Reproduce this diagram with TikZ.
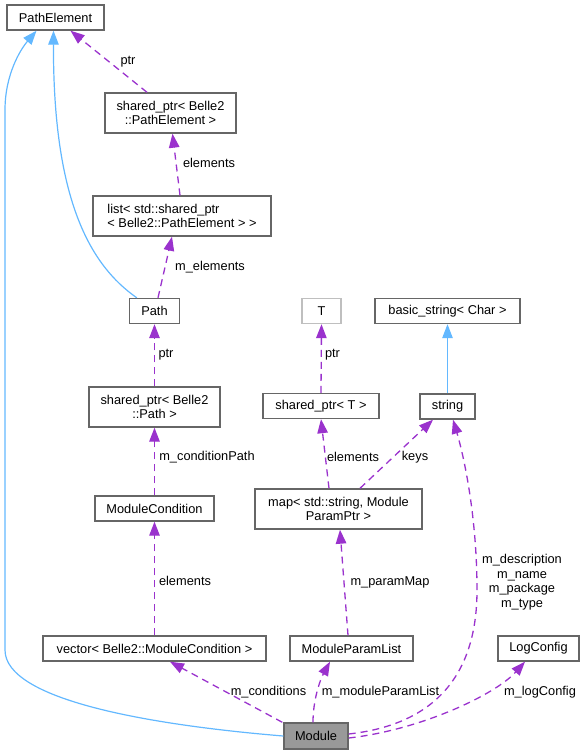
\documentclass[tikz,border=0pt]{standalone}
\usepackage{fontspec}
\setmainfont{Liberation Sans}
\usepackage{tikz}
\usetikzlibrary{arrows.meta, positioning, calc}
\definecolor{inheritblue}{RGB}{99, 184, 255}
\definecolor{usepurple}{RGB}{154, 50, 205}
\definecolor{boxgray}{RGB}{102, 102, 102}
\definecolor{ghostgray}{RGB}{191, 191, 191}
\definecolor{focusfill}{RGB}{153, 153, 153}
\tikzset{
  clsbox/.style={rectangle, draw=boxgray, line width=1.4pt, fill=white, minimum height=25pt, inner sep=0pt, align=center, font=\fontsize{12.8}{14}\selectfont},
  ghostbox/.style={clsbox, draw=ghostgray},
  focusbox/.style={clsbox, fill=focusfill, minimum height=26pt},
  inheritline/.style={draw=inheritblue, line width=1.2pt, -{Triangle[length=14pt, width=10.5pt]}},
  useline/.style={draw=usepurple, line width=1.3pt, dash pattern=on 7pt off 5pt, -{Triangle[length=14pt, width=10.5pt]}},
  edgelabel/.style={inner sep=0pt, align=center, font=\fontsize{12.8}{14.6}\selectfont}
}

\begin{document}
\begin{tikzpicture}[x=1pt, y=-1pt]
    \useasboundingbox (0, 0) rectangle (585, 755);

    % Classes, left column
    \node[clsbox, minimum width=97pt] (PathElem) at (55.5, 17.5) {PathElement};
    \node[clsbox, minimum width=131pt, minimum height=40pt] (SharedPathElem) at (170.5, 113) {shared\_ptr< Belle2\\::PathElement >};
    \node[clsbox, minimum width=178pt, minimum height=40pt, align=left] (ListElem) at (182, 216) {list< std::shared\_ptr\\< Belle2::PathElement > >};
    \node[clsbox, minimum width=50pt] (PathNode) at (154.5, 311) {Path};
    \node[clsbox, minimum width=131pt, minimum height=40pt] (SharedPath) at (154.5, 407) {shared\_ptr< Belle2\\::Path >};
    \node[clsbox, minimum width=119pt] (ModCond) at (154.5, 508.5) {ModuleCondition};
    \node[clsbox, minimum width=223pt] (VecCond) at (154.5, 648.5) {vector< Belle2::ModuleCondition >};

    % Classes, right part
    \node[ghostbox, minimum width=39pt] (TNode) at (321.5, 311) {T};
    \node[clsbox, minimum width=145pt] (BasicStr) at (447.5, 311) {basic\_string< Char >};
    \node[clsbox, minimum width=116pt] (SharedT) at (321, 406) {shared\_ptr< T >};
    \node[clsbox, minimum width=55pt] (StrNode) at (447.5, 406.5) {string};
    \node[clsbox, minimum width=167pt, minimum height=40pt] (MapNode) at (338.5, 509) {map< std::string, Module\\ParamPtr >};
    \node[clsbox, minimum width=123pt] (ParamList) at (351.5, 648.5) {ModuleParamList};
    \node[clsbox, minimum width=81pt] (LogCfg) at (538.5, 648.5) {LogConfig};
    \node[focusbox, minimum width=64pt] (ModuleNode) at (316, 736) {Module};

    % Inheritance
    \draw[inheritline] (ModuleNode.west) .. controls (150, 725) and (5, 700) .. (5, 650) -- (5, 110) .. controls (5, 75) and (20, 50) .. ([xshift=-19pt]PathElem.south);
    \draw[inheritline] ([xshift=8pt]PathNode.north west) .. controls (90, 265) and (53, 200) .. ([xshift=-2pt]PathElem.south);
    \draw[inheritline] (StrNode.north) -- (BasicStr.south);

    % Usage
    \draw[useline] ([xshift=-23.5pt]SharedPathElem.north) -- ([xshift=15pt]PathElem.south);
    \draw[useline] ([xshift=-2pt]ListElem.north) -- ([xshift=2pt]SharedPathElem.south);
    \draw[useline] ([xshift=3.5pt]PathNode.north) -- ([xshift=-10pt]ListElem.south);
    \draw[useline] (SharedPath.north) -- (PathNode.south);
    \draw[useline] (ModCond.north) -- (SharedPath.south);
    \draw[useline] (VecCond.north) -- (ModCond.south);
    \draw[useline] ([xshift=-1pt]ModuleNode.north west) -- ([xshift=15.5pt]VecCond.south);
    \draw[useline] ([xshift=-3pt]ModuleNode.north) .. controls (313, 700) and (320, 680) .. ([xshift=-21.5pt]ParamList.south);
    \draw[useline] ([yshift=-2pt]ModuleNode.east) .. controls (420, 730) and (495, 695) .. ([xshift=-13.5pt]LogCfg.south);
    \draw[useline] ([yshift=2pt]ModuleNode.east) .. controls (430, 725) and (477, 680) .. (477, 590) .. controls (477, 520) and (465, 460) .. ([xshift=5.5pt]StrNode.south);
    \draw[useline] ([xshift=-3.5pt]ParamList.north) -- ([xshift=1.5pt]MapNode.south);
    \draw[useline] ([xshift=-9.5pt]MapNode.north) -- (SharedT.south);
    \draw[useline] ([xshift=21.5pt]MapNode.north) -- ([xshift=-14.5pt]StrNode.south);
    \draw[useline] (SharedT.north) -- (TNode.south);

    % Edge labels
    \node[edgelabel] (LblPtrA) at (128, 62) {ptr};
    \node[edgelabel] (LblElemA) at (209, 163) {elements};
    \node[edgelabel] (LblElemB) at (210, 267) {m\_elements};
    \node[edgelabel] (LblPtrB) at (166, 355) {ptr};
    \node[edgelabel] (LblCondPath) at (207, 457) {m\_conditionPath};
    \node[edgelabel] (LblElemC) at (185, 581) {elements};
    \node[edgelabel] (LblPtrC) at (332.5, 355) {ptr};
    \node[edgelabel] (LblElemD) at (353, 457) {elements};
    \node[edgelabel] (LblKeys) at (415, 457) {keys};
    \node[edgelabel] (LblParamMap) at (390, 582) {m\_paramMap};
    \node[edgelabel] (LblStrings) at (522, 582) {m\_description\\m\_name\\m\_package\\m\_type};
    \node[edgelabel] (LblConds) at (268.5, 692) {m\_conditions};
    \node[edgelabel] (LblParamList) at (380.5, 692) {m\_moduleParamList};
    \node[edgelabel] (LblLogCfg) at (540, 692) {m\_logConfig};
\end{tikzpicture}
\end{document}
